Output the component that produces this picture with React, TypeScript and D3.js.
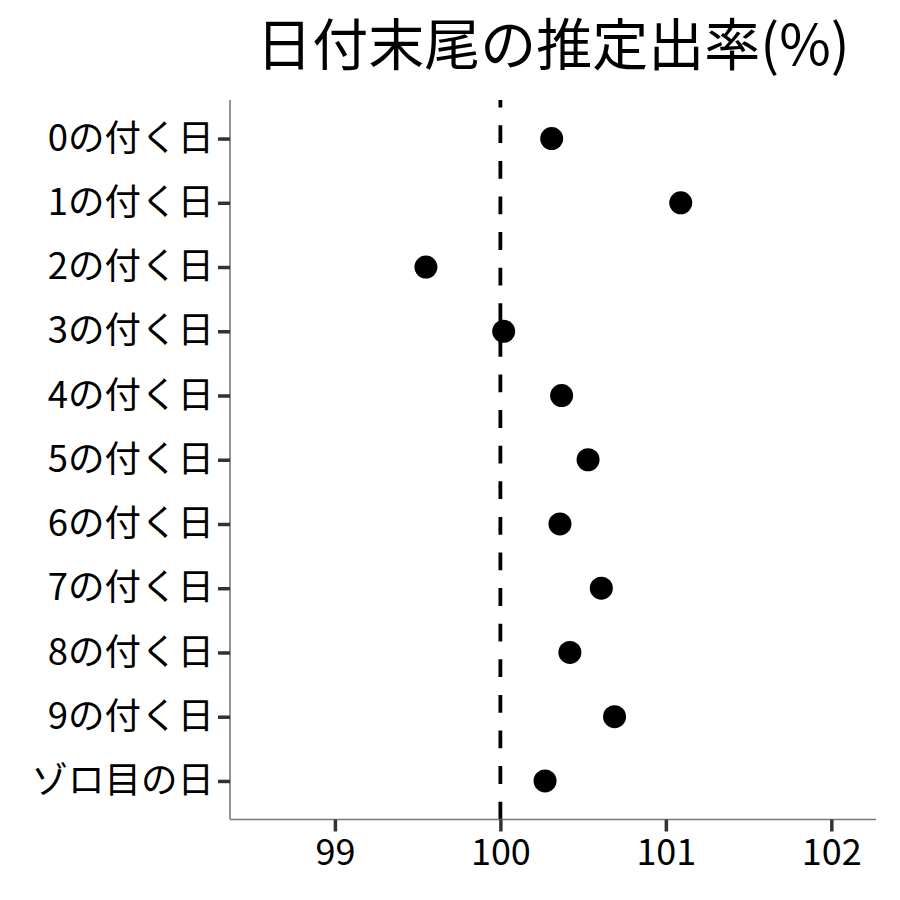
import React, { useEffect, useRef } from 'react';
import * as d3 from 'd3';

const categories = [
  '0の付く日', '1の付く日', '2の付く日', '3の付く日', '4の付く日', '5の付く日',
  '6の付く日', '7の付く日', '8の付く日', '9の付く日', 'ゾロ目の日',
];
const rates = [100.31, 101.09, 99.55, 100.02, 100.37, 100.53, 100.36, 100.61, 100.42, 100.69, 100.27];
const xTicks = [99, 100, 101, 102];
const reference = 100;
const title = '日付末尾の推定出率(%)';

const App = () => {
  const svgRef = useRef<SVGSVGElement>(null);

  useEffect(() => {
    const width = 900;
    const height = 900;
    const margin = { top: 100, right: 24, bottom: 80.5, left: 230 };
    const font = '"Noto Sans CJK JP", "Noto Sans", sans-serif';

    const svg = d3.select(svgRef.current);
    svg.selectAll('*').remove();
    svg.attr('width', width).attr('height', height);

    const x = d3.scaleLinear()
      .domain([98.366, 102.27])
      .range([margin.left, width - margin.right]);

    const y = d3.scalePoint<string>()
      .domain(categories)
      .range([margin.top, height - margin.bottom])
      .padding(0.6);

    const bottom = height - margin.bottom;

    // reference line
    svg.append('line')
      .attr('x1', x(reference))
      .attr('x2', x(reference))
      .attr('y1', bottom)
      .attr('y2', margin.top)
      .attr('stroke', '#000')
      .attr('stroke-width', 3.8)
      .attr('stroke-dasharray', '17.8 17.8');

    // points
    svg.selectAll('.dot')
      .data(categories)
      .enter().append('circle')
      .attr('class', 'dot')
      .attr('cx', (d, i) => x(rates[i]))
      .attr('cy', d => y(d) as number)
      .attr('r', 11.5)
      .attr('fill', '#000');

    // x axis
    const xAxis = svg.append('g')
      .attr('transform', `translate(0,${bottom})`)
      .call(d3.axisBottom(x).tickValues(xTicks).tickSize(12).tickPadding(8).tickFormat(d3.format('d')));
    xAxis.select('.domain').attr('stroke', '#7a7a7a').attr('stroke-width', 1.6)
      .attr('d', `M${margin.left},0H${width - margin.right}`);
    xAxis.selectAll('.tick line').attr('stroke', '#333').attr('stroke-width', 3.5);
    xAxis.selectAll('.tick text')
      .attr('fill', '#000')
      .style('font-family', font)
      .style('font-size', '36px');

    // y axis
    const yAxis = svg.append('g')
      .attr('transform', `translate(${margin.left},0)`)
      .call(d3.axisLeft(y).tickSize(12).tickPadding(4));
    yAxis.select('.domain').attr('stroke', '#7a7a7a').attr('stroke-width', 1.6)
      .attr('d', `M0,${margin.top}V${bottom}`);
    yAxis.selectAll('.tick line').attr('stroke', '#333').attr('stroke-width', 3.5);
    yAxis.selectAll('.tick text')
      .attr('fill', '#000')
      .style('font-family', font)
      .style('font-size', '36.5px');

    // title
    svg.append('text')
      .attr('x', (margin.left + width - margin.right) / 2)
      .attr('y', 65)
      .attr('text-anchor', 'middle')
      .style('font-family', font)
      .style('font-size', '56px')
      .text(title);
  }, []);

  return (
    <div style={{ position: 'absolute', left: 0, top: 0 }}>
      <svg ref={svgRef}></svg>
    </div>
  );
};

export default App;
